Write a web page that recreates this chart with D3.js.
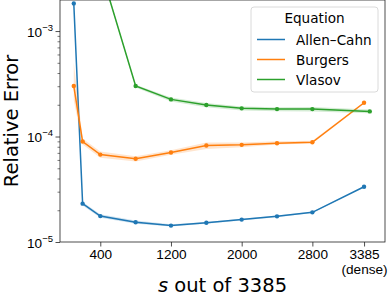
<!DOCTYPE html>
<html>
<head>
<meta charset="utf-8">
<script src="https://cdn.jsdelivr.net/npm/d3@7"></script>
<style>
  body { margin: 0; background: #fff; }
  svg { font-family: "DejaVu Sans", sans-serif; }
</style>
</head>
<body>
<script>
// data
var sAll = [100, 200, 400, 800, 1200, 1600, 2000, 2400, 2800, 3385],
	sVlasov = [400, 800, 1200, 1600, 2000, 2400, 2800, 3450];

var allenCahn = [1.83e-3, 2.31e-5, 1.76e-5, 1.54e-5, 1.43e-5, 1.52e-5, 1.63e-5, 1.75e-5, 1.91e-5, 3.34e-5],
	allenCahnLo = [1.80e-3, 2.22e-5, 1.70e-5, 1.49e-5, 1.40e-5, 1.49e-5, 1.60e-5, 1.72e-5, 1.88e-5, 3.30e-5],
	allenCahnHi = [1.86e-3, 2.40e-5, 1.83e-5, 1.60e-5, 1.47e-5, 1.55e-5, 1.66e-5, 1.78e-5, 1.94e-5, 3.38e-5];

var burgers = [3.01e-4, 8.97e-5, 6.74e-5, 6.15e-5, 7.05e-5, 8.22e-5, 8.34e-5, 8.63e-5, 8.82e-5, 2.09e-4],
	burgersLo = [2.2e-4, 8.4e-5, 6.3e-5, 5.8e-5, 6.7e-5, 7.6e-5, 7.9e-5, 8.4e-5, 8.6e-5, 2.05e-4],
	burgersHi = [5.0e-4, 9.6e-5, 7.2e-5, 6.5e-5, 7.4e-5, 8.8e-5, 8.8e-5, 9.0e-5, 9.1e-5, 2.13e-4];

var vlasov = [3.93e-3, 3.01e-4, 2.25e-4, 1.99e-4, 1.85e-4, 1.82e-4, 1.82e-4, 1.73e-4],
	vlasovLo = [3.8e-3, 2.92e-4, 2.15e-4, 1.90e-4, 1.77e-4, 1.74e-4, 1.73e-4, 1.66e-4],
	vlasovHi = [4.1e-3, 3.10e-4, 2.35e-4, 2.08e-4, 1.93e-4, 1.90e-4, 1.91e-4, 1.80e-4];

var names = ["Allen\u2013Cahn", "Burgers", "Vlasov"],
	colors = ["#1f77b4", "#ff7f0e", "#2ca02c"],
	xTicks = [400, 1200, 2000, 2800, 3385],
	yTicks = [1e-5, 1e-4, 1e-3];

var series = [
	{ name: names[0], s: sAll, v: allenCahn, lo: allenCahnLo, hi: allenCahnHi },
	{ name: names[1], s: sAll, v: burgers, lo: burgersLo, hi: burgersHi },
	{ name: names[2], s: sVlasov, v: vlasov, lo: vlasovLo, hi: vlasovHi }
];

var W = 390, H = 299,
	margin = { top: 0, right: 5, bottom: 57, left: 60 },
	width = W - margin.left - margin.right,
	height = H - margin.top - margin.bottom;

var svg = d3.select("body").append("svg")
	.attr("width", W)
	.attr("height", H);

var g = svg.append("g")
	.attr("transform", "translate(" + margin.left + "," + margin.top + ")");

var x = d3.scaleLinear().domain([-56, 3622]).range([0, width]);
var y = d3.scaleLog().domain([1e-5, 1.97e-3]).range([height, 0]);

g.append("clipPath").attr("id", "clip")
	.append("rect").attr("width", width).attr("height", height);

var plot = g.append("g").attr("clip-path", "url(#clip)");

var area = d3.area()
	.x(d => x(d.s))
	.y0(d => y(d.lo))
	.y1(d => y(d.hi));

var line = d3.line()
	.x(d => x(d.s))
	.y(d => y(d.v));

series.forEach(function (sr, k) {
	var pts = sr.s.map((s, i) => ({ s: s, v: sr.v[i], lo: sr.lo[i], hi: sr.hi[i] }));
	plot.append("path")
		.attr("d", area(pts))
		.attr("fill", colors[k])
		.attr("fill-opacity", 0.2);
	plot.append("path")
		.attr("d", line(pts))
		.attr("fill", "none")
		.attr("stroke", colors[k])
		.attr("stroke-width", 1.5);
	plot.selectAll(".dot" + k)
		.data(pts)
		.enter().append("circle")
		.attr("cx", d => x(d.s))
		.attr("cy", d => y(d.v))
		.attr("r", 2.2)
		.attr("fill", colors[k]);
});

// frame
g.append("rect")
	.attr("width", width).attr("height", height)
	.attr("fill", "none")
	.attr("stroke", "#222")
	.attr("stroke-width", 0.8);

// x axis
var xAxis = g.append("g")
	.attr("transform", "translate(0," + height + ")")
	.call(d3.axisBottom(x).tickValues(xTicks).tickSize(4.5).tickPadding(3).tickFormat(""));
xAxis.select(".domain").remove();
xAxis.selectAll(".tick line").attr("stroke", "#222").attr("stroke-width", 0.8);
xAxis.selectAll(".tick").each(function (d) {
	var t = d3.select(this).append("text")
		.attr("fill", "#000")
		.attr("text-anchor", "middle")
		.style("font-size", "13.6px")
		.attr("y", 17);
	t.append("tspan").attr("x", 0).text(d);
	if (d === 3385) t.append("tspan").attr("x", 0).attr("dy", 15).text("(dense)");
});

// y axis
var minor = [];
[1e-5, 1e-4, 1e-3].forEach(function (b) {
	for (var m = 2; m <= 9; m++) if (b * m < 1.97e-3) minor.push(b * m);
});
var yMinor = g.append("g")
	.call(d3.axisLeft(y).tickValues(minor).tickSize(2.5).tickFormat(""));
yMinor.select(".domain").remove();
yMinor.selectAll(".tick line").attr("stroke", "#222").attr("stroke-width", 0.6);

var yAxis = g.append("g")
	.call(d3.axisLeft(y).tickValues(yTicks).tickSize(4.5).tickFormat(""));
yAxis.select(".domain").remove();
yAxis.selectAll(".tick line").attr("stroke", "#222").attr("stroke-width", 0.8);
yAxis.selectAll(".tick").each(function (d) {
	var e = Math.round(Math.log10(d));
	var t = d3.select(this).append("text")
		.attr("fill", "#000")
		.attr("text-anchor", "end")
		.attr("x", -7)
		.attr("y", 5)
		.style("font-size", "13.6px");
	t.append("tspan").text("10");
	t.append("tspan").attr("dy", -6).style("font-size", "9.5px").text("\u2212" + (-e));
});

// axis labels
svg.append("text")
	.attr("transform", "translate(18," + (margin.top + height / 2) + ") rotate(-90)")
	.attr("text-anchor", "middle")
	.style("font-size", "19.5px")
	.text("Relative Error");

var xl = svg.append("text")
	.attr("x", margin.left + width / 2)
	.attr("y", 292)
	.attr("text-anchor", "middle")
	.style("font-size", "19.5px");
xl.append("tspan").style("font-style", "italic").text("s");
xl.append("tspan").text(" out of 3385");

// legend
var lg = svg.append("g").attr("transform", "translate(251,7)");
lg.append("rect")
	.attr("width", 127).attr("height", 85)
	.attr("rx", 3)
	.attr("fill", "#fff").attr("fill-opacity", 0.8)
	.attr("stroke", "#d0d0d0").attr("stroke-width", 0.8);
lg.append("text")
	.attr("x", 63.5).attr("y", 16)
	.attr("text-anchor", "middle")
	.style("font-size", "13.6px")
	.text("Equation");
names.forEach(function (n, i) {
	var yy = 32.5 + i * 20;
	lg.append("line")
		.attr("x1", 6).attr("x2", 34)
		.attr("y1", yy).attr("y2", yy)
		.attr("stroke", colors[i]).attr("stroke-width", 1.5);
	lg.append("text")
		.attr("x", 45).attr("y", yy + 5)
		.style("font-size", "13.6px")
		.text(n);
});
</script>
</body>
</html>
